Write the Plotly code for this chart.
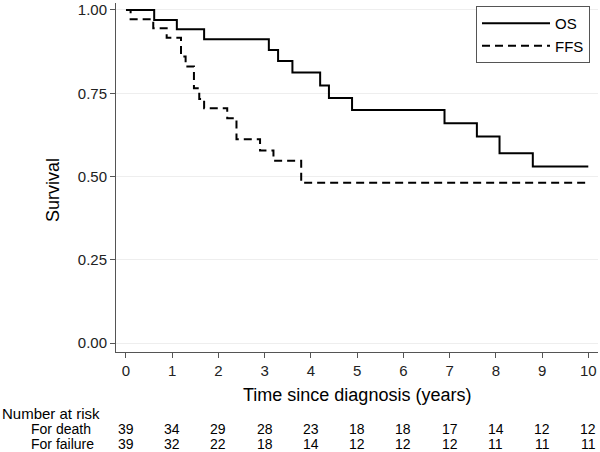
import plotly.graph_objects as go

# Kaplan-Meier step data
os_time = [0, 0.61, 1.10, 1.69, 3.09, 3.29, 3.60, 4.20, 4.39, 4.89, 6.89, 7.59, 8.08, 8.80, 10.0]
os_surv = [1.0, 0.970, 0.942, 0.912, 0.880, 0.847, 0.812, 0.773, 0.736, 0.700, 0.660, 0.620, 0.570, 0.530, 0.530]

ffs_time = [0, 0.10, 0.59, 0.88, 1.19, 1.29, 1.47, 1.585, 1.69, 2.19, 2.39, 2.90, 3.19, 3.79, 10.0]
ffs_surv = [1.0, 0.972, 0.945, 0.917, 0.860, 0.830, 0.765, 0.733, 0.705, 0.675, 0.612, 0.578, 0.547, 0.481, 0.481]

x_ticks = [0, 1, 2, 3, 4, 5, 6, 7, 8, 9, 10]
y_ticks = [0.0, 0.25, 0.5, 0.75, 1.0]
y_tick_labels = ["0.00", "0.25", "0.50", "0.75", "1.00"]

risk_death = [39, 34, 29, 28, 23, 18, 18, 17, 14, 12, 12]
risk_failure = [39, 32, 22, 18, 14, 12, 12, 12, 11, 11, 11]

FONT = "Liberation Sans, Arial, sans-serif"
NARROW = "Liberation Sans Narrow, Liberation Sans, Arial, sans-serif"

W, H = 600, 452
ML, MR, MT, MB = 116, 2, 3, 100
PW, PH = W - ML - MR, H - MT - MB


def px_to_paper_x(px):
    return (px - ML) / PW


def py_to_paper_y(py):
    return (H - MB - py) / PH


fig = go.Figure()
fig.add_trace(go.Scatter(x=os_time, y=os_surv, mode="lines", line_shape="hv",
                         name="OS", line=dict(color="black", width=2)))
fig.add_trace(go.Scatter(x=ffs_time, y=ffs_surv, mode="lines", line_shape="hv",
                         name="FFS", line=dict(color="black", width=2, dash="8px,5px")))

annotations = []
annotations.append(dict(text="Time since diagnosis (years)", x=0.5, y=py_to_paper_y(395),
                        xref="paper", yref="paper", showarrow=False,
                        font=dict(family=FONT, size=18, color="black"),
                        xanchor="center", yanchor="middle"))
annotations.append(dict(text="Survival", x=px_to_paper_x(53), y=py_to_paper_y(190),
                        xref="paper", yref="paper", showarrow=False, textangle=-90,
                        font=dict(family=FONT, size=18, color="black"),
                        xanchor="center", yanchor="middle"))
annotations.append(dict(text="Number at risk", x=px_to_paper_x(0), y=py_to_paper_y(413),
                        xref="paper", yref="paper", showarrow=False,
                        font=dict(family=FONT, size=15, color="black"),
                        xanchor="left", yanchor="middle"))
annotations.append(dict(text="For death", x=px_to_paper_x(29), y=py_to_paper_y(429),
                        xref="paper", yref="paper", showarrow=False,
                        font=dict(family=FONT, size=14, color="black"),
                        xanchor="left", yanchor="middle"))
annotations.append(dict(text="For failure", x=px_to_paper_x(29), y=py_to_paper_y(444),
                        xref="paper", yref="paper", showarrow=False,
                        font=dict(family=FONT, size=14, color="black"),
                        xanchor="left", yanchor="middle"))
for t, d, f in zip(x_ticks, risk_death, risk_failure):
    annotations.append(dict(text=str(d), x=t, y=py_to_paper_y(429), xref="x", yref="paper",
                            showarrow=False, font=dict(family=NARROW, size=14, color="black"),
                            xanchor="center", yanchor="middle"))
    annotations.append(dict(text=str(f), x=t, y=py_to_paper_y(444), xref="x", yref="paper",
                            showarrow=False, font=dict(family=NARROW, size=14, color="black"),
                            xanchor="center", yanchor="middle"))

fig.update_layout(
    width=W, height=H,
    margin=dict(l=ML, r=MR, t=MT, b=MB),
    paper_bgcolor="white", plot_bgcolor="white",
    font=dict(family=FONT, color="black"),
    showlegend=True,
    legend=dict(x=px_to_paper_x(476), y=py_to_paper_y(6), xanchor="left", yanchor="top",
                bordercolor="#555555", borderwidth=1, bgcolor="white",
                font=dict(family=FONT, size=15, color="black"),
                tracegroupgap=0, itemwidth=68),
    annotations=annotations,
    xaxis=dict(range=[-0.216, 10.21], tickmode="array", tickvals=x_ticks,
               showline=True, linecolor="#555555", linewidth=1,
               ticks="outside", ticklen=5, tickcolor="#555555",
               showgrid=False, zeroline=False,
               tickfont=dict(family=FONT, size=15, color="#222222")),
    yaxis=dict(range=[-0.027, 1.021], tickmode="array", tickvals=y_ticks, ticktext=y_tick_labels,
               showline=True, linecolor="#555555", linewidth=1,
               ticks="outside", ticklen=5, tickcolor="#555555",
               showgrid=True, gridcolor="#eeeeee", gridwidth=1, zeroline=False,
               tickfont=dict(family=FONT, size=15, color="#222222")),
)

fig.write_html("out.html", config={"displayModeBar": False},
               post_script="document.body.style.margin='0';document.body.style.padding='0';")
